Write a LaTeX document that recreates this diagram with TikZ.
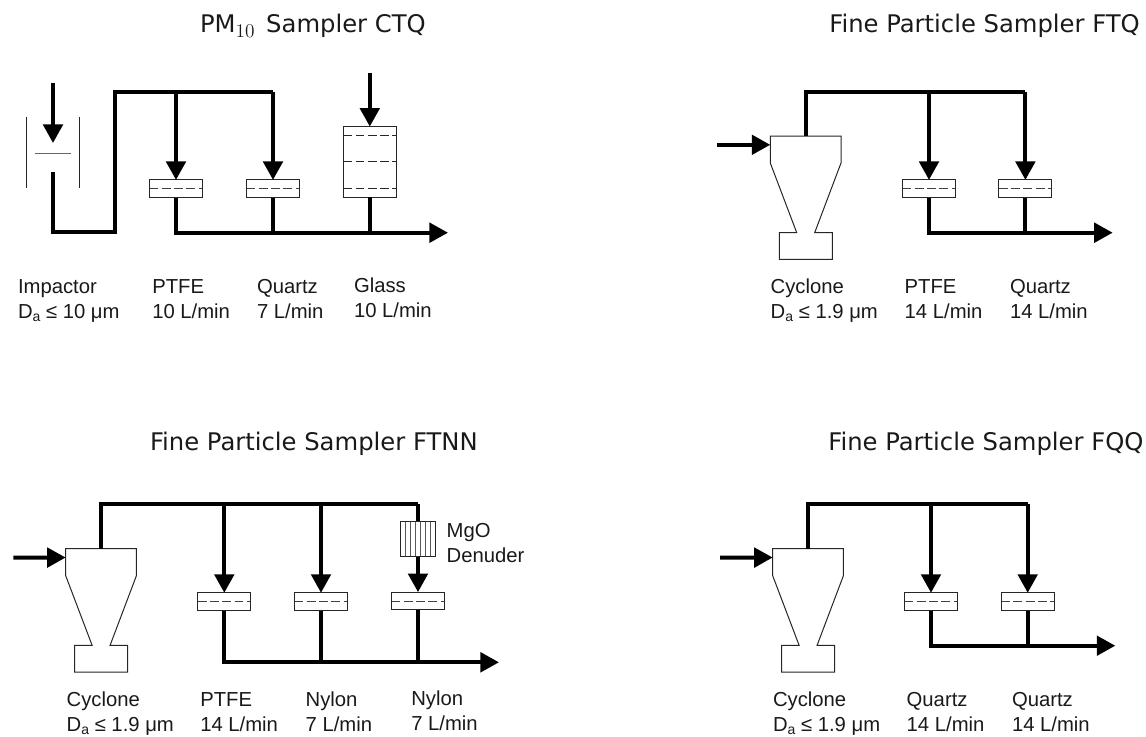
\documentclass[tikz,border=0pt]{standalone}
\usepackage{fontspec}
\setmainfont{Liberation Sans}
\newfontfamily\titlefont{DejaVu Sans}
\usetikzlibrary{arrows.meta}
\newcommand{\Da}{D\raisebox{-0.3ex}{\fontsize{10.5}{12}\selectfont a}}
\newcommand{\subten}{\raisebox{-0.45ex}{\fontfamily{lmr}\fontsize{14.5}{15}\selectfont 10}\kern 3pt}
\tikzset{
  x=.75pt,y=-.75pt,
  flow/.style={line width=3pt,black,line cap=butt,line join=miter},
  flowarrow/.style={flow,-{Triangle[length=13.9pt,width=14.5pt]}},
  thinline/.style={line width=.75pt,black!85},
  filterbase/.style={draw=black!85,line width=.75pt,fill=white,inner sep=0pt,outer sep=0pt,minimum width=39.75pt},
  filterbox/.style={filterbase,minimum height=13.3pt,path picture={
    \draw[black!75,line width=.75pt,dash pattern=on 6.6pt off 2.6pt]
      (path picture bounding box.west) -- (path picture bounding box.east);}},
  glassbox/.style={filterbase,minimum height=52.8pt,path picture={
    \draw[black!85,line width=.75pt,dash pattern=on 6.6pt off 2.6pt]
      ([yshift=-6.6pt]path picture bounding box.north west) -- ([yshift=-6.6pt]path picture bounding box.north east)
      (path picture bounding box.west) -- (path picture bounding box.east)
      ([yshift=6.6pt]path picture bounding box.south west) -- ([yshift=6.6pt]path picture bounding box.south east);}},
  denuderbox/.style={draw=black!85,line width=.75pt,fill=white,inner sep=0pt,outer sep=0pt,
    minimum width=26.5pt,minimum height=26.5pt,path picture={
    \foreach \k in {1,...,6}{
      \draw[black!65,line width=.6pt]
        ([xshift=\k*3.79pt]path picture bounding box.north west) -- ([xshift=\k*3.79pt]path picture bounding box.south west);}}},
  lbl/.style={inner sep=0pt,outer sep=0pt,anchor=base west,align=left,black!90,
    font=\fontsize{15.2}{18.75}\selectfont},
  ttl/.style={inner sep=0pt,outer sep=0pt,anchor=base west,black!90,
    font=\titlefont\fontsize{18.2}{20}\selectfont},
}
% #1 name, #2 left x, #3 top y
\newcommand{\cyclonebody}[3]{%
  \draw[thinline] (#2,#3) -- (#2+70.7,#3) -- (#2+70.7,#3+27) -- (#2+44.4,#3+96.6)
    -- (#2+62,#3+96.6) -- (#2+62,#3+123.4) -- (#2+9,#3+123.4) -- (#2+9,#3+96.6)
    -- (#2+26.4,#3+96.6) -- (#2,#3+27) -- cycle;
  \coordinate (#1in) at (#2,#3+8.8);
  \coordinate (#1up) at (#2+35.7,#3);
}
\begin{document}
\begin{tikzpicture}
\useasboundingbox (0,0) rectangle (1146,736);

% ---------- PM10 sampler CTQ ----------
\node[ttl] (ta) at (200,32) {PM\subten{} Sampler CTQ};
\draw[thinline] (26.7,117) -- (26.7,188) (79.3,117) -- (79.3,188);
\draw[black!60,line width=.75pt] (35,153) -- (70.7,153);
\node[filterbox] (af1) at (176,188.8) {};
\node[filterbox] (af2) at (273,188.8) {};
\node[glassbox] (af3) at (369.8,161.8) {};
\coordinate (ain0) at (53,83);
\coordinate (aimp) at (53,143);
\coordinate (aimpout) at (53,172);
\coordinate (ajoin) at (115,232);
\coordinate (atop) at (115,91.7);
\coordinate (at1) at (af1 |- atop);
\coordinate (at2) at (af2 |- atop);
\coordinate (ain3) at (369.8,73);
\coordinate (aexit) at (448,232.7);
\draw[flowarrow] (ain0) -- (aimp);
\draw[flow] (aimpout) |- (ajoin) -- (atop) -- (at2);
\draw[flowarrow] (at1) -- (af1.north);
\draw[flowarrow] (at2) -- (af2.north);
\draw[flowarrow] (ain3) -- (af3.north);
\draw[flowarrow] (af1.south) |- (aexit);
\draw[flow] (af2.south) -- (af2.south |- aexit);
\draw[flow] (af3.south) -- (af3.south |- aexit);
\node[lbl] (al1) at (18,318) {Impactor\\\Da{} ≤ 10 μm};
\node[lbl] (al2) at (152.3,318) {PTFE\\10 L/min};
\node[lbl] (al3) at (257,318) {Quartz\\7 L/min};
\node[lbl] (al4) at (354,317) {Glass\\10 L/min};

% ---------- Fine particle sampler FTQ ----------
\node[ttl] (tb) at (829.3,32) {Fine Particle Sampler FTQ};
\cyclonebody{b}{770.3}{136}
\node[filterbox] (bf1) at (929,188.8) {};
\node[filterbox] (bf2) at (1025.4,188.8) {};
\coordinate (bin0) at (717.3,144.8);
\coordinate (btop) at (1025.4,91.7);
\coordinate (bt1) at (bf1 |- btop);
\coordinate (bexit) at (1112.7,232.7);
\draw[flowarrow] (bin0) -- (bin);
\draw[flow] (bup) |- (btop);
\draw[flowarrow] (bt1) -- (bf1.north);
\draw[flowarrow] (btop) -- (bf2.north);
\draw[flowarrow] (bf1.south) |- (bexit);
\draw[flow] (bf2.south) -- (bf2.south |- bexit);
\node[lbl] (bl1) at (770.7,318) {Cyclone\\\Da{} ≤ 1.9 μm};
\node[lbl] (bl2) at (904.7,318) {PTFE\\14 L/min};
\node[lbl] (bl3) at (1010,318) {Quartz\\14 L/min};

% ---------- Fine particle sampler FTNN ----------
\node[ttl] (tc) at (150,450) {Fine Particle Sampler FTNN};
\cyclonebody{c}{65.7}{548.7}
\node[filterbox] (cf1) at (224.3,601.7) {};
\node[filterbox] (cf2) at (321,601.7) {};
\node[filterbox] (cf3) at (418,601) {};
\coordinate (cin0) at (13.3,557.7);
\coordinate (ctop) at (418,504.3);
\coordinate (ct1) at (cf1 |- ctop);
\coordinate (ct2) at (cf2 |- ctop);
\coordinate (cexit) at (499,662.3);
\draw[flowarrow] (cin0) -- (cin);
\draw[flow] (cup) |- (ctop);
\draw[flowarrow] (ct1) -- (cf1.north);
\draw[flowarrow] (ct2) -- (cf2.north);
\draw[flowarrow] (ctop) -- (cf3.north);
\node[denuderbox] (cden) at (418,539.3) {};
\draw[flowarrow] (cf1.south) |- (cexit);
\draw[flow] (cf2.south) -- (cf2.south |- cexit);
\draw[flow] (cf3.south) -- (cf3.south |- cexit);
\node[lbl] (cl0) at (446.7,562.5) {MgO\\Denuder};
\node[lbl] (cl1) at (66.7,731) {Cyclone\\\Da{} ≤ 1.9 μm};
\node[lbl] (cl2) at (200.3,731) {PTFE\\14 L/min};
\node[lbl] (cl3) at (305.7,731) {Nylon\\7 L/min};
\node[lbl] (cl4) at (411.3,730) {Nylon\\7 L/min};

% ---------- Fine particle sampler FQQ ----------
\node[ttl] (td) at (828.3,450) {Fine Particle Sampler FQQ};
\cyclonebody{d}{772.7}{548.7}
\node[filterbox] (df1) at (931,601.7) {};
\node[filterbox] (df2) at (1027.7,601.7) {};
\coordinate (din0) at (720,557.7);
\coordinate (dtop) at (1027.7,504.3);
\coordinate (dt1) at (df1 |- dtop);
\coordinate (dexit) at (1115.3,645.7);
\draw[flowarrow] (din0) -- (din);
\draw[flow] (dup) |- (dtop);
\draw[flowarrow] (dt1) -- (df1.north);
\draw[flowarrow] (dtop) -- (df2.north);
\draw[flowarrow] (df1.south) |- (dexit);
\draw[flow] (df2.south) -- (df2.south |- dexit);
\node[lbl] (dl1) at (773,731) {Cyclone\\\Da{} ≤ 1.9 μm};
\node[lbl] (dl2) at (906.7,731) {Quartz\\14 L/min};
\node[lbl] (dl3) at (1012,731) {Quartz\\14 L/min};
\end{tikzpicture}
\end{document}
